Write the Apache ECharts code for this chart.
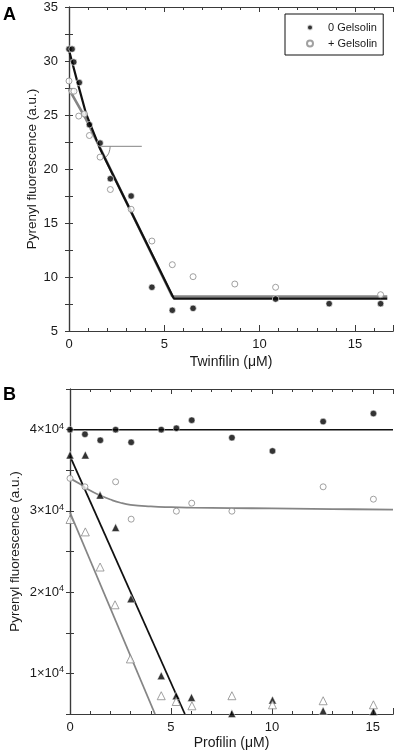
<!DOCTYPE html>
<html><head><meta charset="utf-8">
<script src="https://cdn.jsdelivr.net/npm/echarts@6/dist/echarts.min.js"></script>
<style>html,body{margin:0;padding:0;background:#fff}#c{width:400px;height:752px}</style>
</head><body><div id="c"></div>
<script>
// ---------- Panel A: Twinfilin titration ----------
const twinfilinNoGelsolin = [[0,31.1],[0.16,31.1],[0.25,29.9],[0.54,28.0],[1.07,24.1],[1.63,22.4],[2.17,19.1],[3.26,17.5],[4.35,9.05],[5.42,6.92],[6.51,7.1],[10.84,7.96],[13.65,7.53],[16.35,7.53]];
const twinfilinPlusGelsolin = [[0,28.15],[0.16,27.2],[0.26,27.2],[0.51,24.9],[0.81,25.1],[1.07,23.1],[1.63,21.1],[2.17,18.1],[3.26,16.27],[4.35,13.33],[5.42,11.14],[6.51,10.03],[8.7,9.35],[10.84,9.05],[16.35,8.36]];
const fitNoGelsolin = [[0,31.0],[0.45,28.0],[0.9,25.1],[1.6,22.0],[5.5,8.0],[16.7,8.0]];
const fitPlusGelsolin = [[0,27.4],[0.9,24.6],[5.42,8.2],[16.7,8.2]];
const annotLine = [[1.63,22.1],[3.82,22.1]];
const annotArc = [[2.16,22.1],[2.12,21.65],[2.03,21.3],[1.9,21.05]];
const aXRange = [0, 17];
const aYRange = [5, 35];
const aXLabels = [0, 5, 10, 15];
const aYLabels = [5, 10, 15, 20, 25, 30, 35];

// ---------- Panel B: Profilin titration ----------
const profCircleFilled = [[0,40000],[0.74,39430],[1.5,38690],[2.26,40000],[3.03,38440],[4.52,40000],[5.27,40170],[6.03,41160],[8.02,39010],[10.03,37370],[12.54,40990],[15.03,41980]];
const profCircleOpen = [[0,34000],[0.74,32960],[2.26,33580],[3.03,28980],[5.27,29960],[6.03,30950],[8.02,29960],[12.54,32960],[15.03,31440]];
const profTriFilled = [[0,36880],[0.76,36880],[1.49,31940],[2.26,27950],[3.02,19185],[4.52,9720],[5.26,7250],[6.02,7040],[8.02,5050],[10.03,6720],[12.54,5400],[15.03,5310]];
const profTriOpen = [[0,28940],[0.76,27410],[1.49,23090],[2.23,18440],[2.99,11780],[4.52,7250],[5.26,6540],[6.04,6010],[8.02,7250],[10.03,6130],[12.54,6630],[15.03,6130]];
const fitCircleFilled = [[0,40000],[16,40000]];
const fitCircleOpen = [[0,34000],[0.5,33300],[1,32500],[1.5,31900],[2,31400],[2.5,31000],[3,30750],[4,30550],[5,30450],[6,30400],[8,30350],[10,30300],[12,30250],[14,30200],[16,30150]];
const fitTriFilled = [[0,36750],[5.69,5000]];
const fitTriOpen = [[0,29800],[4.21,5000]];
const bXRange = [0, 16];
const bYRange = [5000, 45000];
const bXLabels = [0, 5, 10, 15];
const bYLabels = [10000, 20000, 30000, 40000];

const FONT = '"Liberation Sans", Arial, Helvetica, sans-serif';
const AXC = '#3a3a3a';
const TXT = '#1a1a1a';
const GRAY = '#858585';

function xAx(grid, pos, range, interval, tickLen, labels, name, nameGap) {
  return {
    type: 'value', gridIndex: grid, position: pos, min: range[0], max: range[1], interval: interval,
    axisLine: { show: true, lineStyle: { color: AXC, width: 1.2 } },
    axisTick: { show: true, inside: true, length: tickLen, lineStyle: { color: AXC, width: 1 } },
    splitLine: { show: false },
    axisLabel: labels ? { show: true, margin: 7, color: TXT, fontFamily: FONT, fontSize: 13,
      formatter: v => labels.includes(v) ? String(v) : '' } : { show: false },
    name: name || '', nameLocation: 'middle', nameGap: nameGap || 0, nameMoveOverlap: false,
    nameTextStyle: { color: TXT, fontFamily: FONT, fontSize: 14 }
  };
}
function yAx(grid, pos, range, interval, labelCfg, name, nameGap) {
  return {
    type: 'value', gridIndex: grid, position: pos, min: range[0], max: range[1], interval: interval,
    axisLine: { show: true, lineStyle: { color: AXC, width: 1.2 } },
    axisTick: { show: true, inside: true, length: 4, lineStyle: { color: AXC, width: 1 } },
    splitLine: { show: false },
    axisLabel: labelCfg || { show: false },
    name: name || '', nameLocation: 'middle', nameGap: nameGap || 0, nameMoveOverlap: false,
    nameTextStyle: { color: TXT, fontFamily: FONT, fontSize: 13.5 }
  };
}

const chart = echarts.init(document.getElementById('c'), null, { renderer: 'canvas' });
const option = {
  animation: false,
  backgroundColor: '#fff',
  textStyle: { fontFamily: FONT },
  grid: [
    { left: 69, top: 7, width: 324, height: 324, containLabel: false, outerBoundsMode: 'none' },
    { left: 70, top: 389, width: 323, height: 325, containLabel: false, outerBoundsMode: 'none' }
  ],
  xAxis: [
    xAx(0, 'bottom', aXRange, 5, 6, aXLabels, 'Twinfilin (μM)', 24),
    xAx(0, 'bottom', aXRange, 1, 3),
    xAx(0, 'top', aXRange, 5, 5),
    xAx(0, 'top', aXRange, 1, 3),
    xAx(1, 'bottom', bXRange, 5, 6, bXLabels, 'Profilin (μM)', 22),
    xAx(1, 'bottom', bXRange, 1, 3),
    xAx(1, 'top', bXRange, 5, 5),
    xAx(1, 'top', bXRange, 1, 3)
  ],
  yAxis: [
    yAx(0, 'left', aYRange, 2.5, { show: true, margin: 11, color: TXT, fontFamily: FONT, fontSize: 13,
      formatter: v => aYLabels.includes(v) ? String(v) : '' }, 'Pyrenyl fluorescence (a.u.)', 30),
    yAx(0, 'right', aYRange, 2.5),
    yAx(1, 'left', bYRange, 5000, { show: true, margin: 6, color: TXT, fontFamily: FONT,
      formatter: v => bYLabels.includes(v) ? '{n|' + (v / 10000) + '×10}{s|4}' : '',
      rich: { n: { fontSize: 13, fontFamily: FONT, color: TXT, lineHeight: 16 },
              s: { fontSize: 9, fontFamily: FONT, color: TXT, verticalAlign: 'top', lineHeight: 10, padding: [0, 0, 6, 0] } } },
      'Pyrenyl fluorescence (a.u.)', 48),
    yAx(1, 'right', bYRange, 5000)
  ],
  legend: {
    data: ['0 Gelsolin', '+ Gelsolin'],
    orient: 'vertical', left: 285, top: 14,
    itemWidth: 26, itemHeight: 6, symbolKeepAspect: true, itemGap: 5,
    borderColor: '#111', borderWidth: 1, padding: [8, 6, 6, 21],
    textStyle: { fontFamily: FONT, fontSize: 11, color: TXT },
    backgroundColor: '#fff'
  },
  graphic: [
    { type: 'text', left: 3, top: 6, style: { text: 'A', font: 'bold 18px ' + FONT, fill: '#000' } },
    { type: 'text', left: 3, top: 386, style: { text: 'B', font: 'bold 18px ' + FONT, fill: '#000' } }
  ],
  series: [
    { type: 'line', xAxisIndex: 0, yAxisIndex: 0, data: fitPlusGelsolin, symbol: 'none', z: 2,
      lineStyle: { color: GRAY, width: 2.6 } },
    { type: 'line', xAxisIndex: 0, yAxisIndex: 0, data: fitNoGelsolin, symbol: 'none', z: 3,
      lineStyle: { color: '#111', width: 2.2 } },
    { type: 'line', xAxisIndex: 0, yAxisIndex: 0, data: annotLine, symbol: 'none', z: 2,
      lineStyle: { color: GRAY, width: 1 } },
    { type: 'line', xAxisIndex: 0, yAxisIndex: 0, data: annotArc, symbol: 'none', smooth: true, z: 2,
      lineStyle: { color: GRAY, width: 1 } },
    { name: '0 Gelsolin', type: 'scatter', xAxisIndex: 0, yAxisIndex: 0, data: twinfilinNoGelsolin,
      symbol: 'circle', symbolSize: 6.5, z: 5,
      itemStyle: { color: '#000', borderColor: '#fff', borderWidth: 0.8 } },
    { name: '+ Gelsolin', type: 'scatter', xAxisIndex: 0, yAxisIndex: 0, data: twinfilinPlusGelsolin,
      symbol: 'circle', symbolSize: 6, z: 5,
      itemStyle: { color: '#fff', borderColor: '#8a8a8a', borderWidth: 1 } },

    { type: 'line', xAxisIndex: 4, yAxisIndex: 2, data: fitCircleFilled, symbol: 'none', z: 2,
      lineStyle: { color: '#111', width: 1.5 } },
    { type: 'line', xAxisIndex: 4, yAxisIndex: 2, data: fitCircleOpen, symbol: 'none', smooth: true, z: 2,
      lineStyle: { color: GRAY, width: 1.8 } },
    { type: 'line', xAxisIndex: 4, yAxisIndex: 2, data: fitTriFilled, symbol: 'none', z: 2,
      lineStyle: { color: '#111', width: 1.8 } },
    { type: 'line', xAxisIndex: 4, yAxisIndex: 2, data: fitTriOpen, symbol: 'none', z: 2,
      lineStyle: { color: GRAY, width: 1.8 } },
    { type: 'scatter', xAxisIndex: 4, yAxisIndex: 2, data: profCircleFilled, symbol: 'circle', symbolSize: 6.5, z: 5,
      itemStyle: { color: '#000', borderColor: '#fff', borderWidth: 0.6 } },
    { type: 'scatter', xAxisIndex: 4, yAxisIndex: 2, data: profCircleOpen, symbol: 'circle', symbolSize: 6, z: 5,
      itemStyle: { color: '#fff', borderColor: '#8a8a8a', borderWidth: 1 } },
    { type: 'scatter', xAxisIndex: 4, yAxisIndex: 2, data: profTriFilled, symbol: 'triangle', symbolSize: 8, z: 5,
      itemStyle: { color: '#000', borderColor: '#fff', borderWidth: 0.6 } },
    { type: 'scatter', xAxisIndex: 4, yAxisIndex: 2, data: profTriOpen, symbol: 'triangle', symbolSize: 8, z: 5,
      itemStyle: { color: '#fff', borderColor: '#8a8a8a', borderWidth: 1 } }
  ]
};
chart.setOption(option);
</script>
</body></html>
